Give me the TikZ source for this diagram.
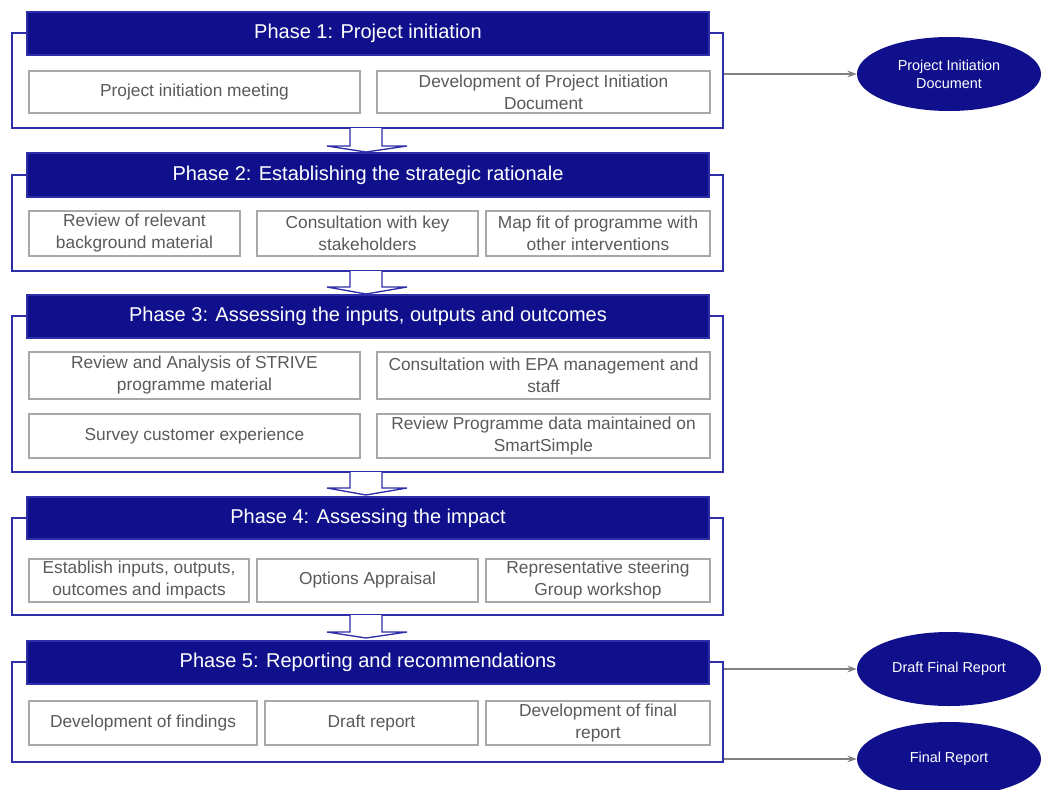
\documentclass[tikz,border=0pt]{standalone}
\usepackage{fontspec}
\setmainfont{Liberation Sans}
\usetikzlibrary{arrows.meta,shapes.geometric}
\definecolor{navy}{HTML}{10108C}
\definecolor{frameblue}{HTML}{2E2EA8}
\definecolor{boxgray}{HTML}{A8A8A8}
\definecolor{txtgray}{HTML}{5A5A5A}
\definecolor{arrgray}{HTML}{808080}
\newcommand\bx[7]{\node[#6, minimum width={(#4-#2)*0.75pt}, minimum height={(#5-#3)*0.75pt}] (#1) at ({(#2+#4)/2},{(#3+#5)/2}) {#7};}
\newcommand\blkarrow[3]{\draw[blkarr] (350,#1) -- (350,#2) -- (327,#2) -- (366,#3) -- (407,#2) -- (382,#2) -- (382,#1);}
\tikzset{
  hdr/.style={fill=navy, draw=frameblue, line width=0.8pt, text=white, font=\fontsize{15}{17}\selectfont, inner sep=0pt},
  frm/.style={draw=frameblue, line width=1.3pt, inner sep=0pt},
  sub/.style={draw=boxgray, line width=1.3pt, fill=white, text=txtgray, font=\fontsize{13}{16.5}\selectfont, align=center, inner sep=0pt},
  outp/.style={ellipse, fill=navy, text=white, font=\fontsize{10.8}{13.5}\selectfont, align=center, minimum width=138pt, minimum height=55.5pt, inner sep=0pt},
  flow/.style={draw=arrgray, line width=1.1pt, -{Stealth[length=7pt,width=5pt]}},
  blkarr/.style={draw=frameblue, fill=white, line width=1pt, line join=miter}
}
\begin{document}
\begin{tikzpicture}[x=0.75pt,y=-0.75pt]
\useasboundingbox (0,0) rectangle (1041,789);
% frames
\bx{f1}{12}{33}{723}{128}{frm}{}
\bx{f2}{12}{175}{723}{271}{frm}{}
\bx{f3}{12}{316}{723}{472}{frm}{}
\bx{f4}{12}{518}{723}{615}{frm}{}
\bx{f5}{12}{662}{723}{762}{frm}{}
% block arrows
\blkarrow{128}{146}{152}
\blkarrow{271}{287}{294}
\blkarrow{472}{488}{495}
\blkarrow{615}{632}{638}
% headers
\bx{h1}{27}{12}{709}{55}{hdr}{Phase 1: Project initiation}
\bx{h2}{27}{153}{709}{197}{hdr}{Phase 2: Establishing the strategic rationale}
\bx{h3}{27}{295}{709}{338}{hdr}{Phase 3: Assessing the inputs, outputs and outcomes}
\bx{h4}{27}{497}{709}{539}{hdr}{Phase 4: Assessing the impact}
\bx{h5}{27}{641}{709}{684}{hdr}{Phase 5: Reporting and recommendations}
% phase 1 boxes
\bx{b11}{29}{71}{360}{113}{sub}{Project initiation meeting}
\bx{b12}{377}{71}{710}{113}{sub}{Development of Project Initiation\\Document}
% phase 2 boxes
\bx{b21}{29}{211}{240}{256}{sub}{Review of relevant\\background material}
\bx{b22}{257}{211}{478}{256}{sub}{Consultation with key\\stakeholders}
\bx{b23}{486}{211}{710}{256}{sub}{Map fit of programme with\\other interventions}
% phase 3 boxes
\bx{b31}{29}{352}{360}{399}{sub}{Review and Analysis of STRIVE\\programme material}
\bx{b32}{377}{352}{710}{399}{sub}{Consultation with EPA management and\\staff}
\bx{b33}{29}{414}{360}{458}{sub}{Survey customer experience}
\bx{b34}{377}{414}{710}{458}{sub}{Review Programme data maintained on\\SmartSimple}
% phase 4 boxes
\bx{b41}{29}{559}{249}{602}{sub}{Establish inputs, outputs,\\outcomes and impacts}
\bx{b42}{257}{559}{478}{602}{sub}{Options Appraisal}
\bx{b43}{486}{559}{710}{602}{sub}{Representative steering\\Group workshop}
% phase 5 boxes
\bx{b51}{29}{701}{257}{745}{sub}{Development of findings}
\bx{b52}{265}{701}{478}{745}{sub}{Draft report}
\bx{b53}{486}{701}{710}{745}{sub}{Development of final\\report}
% outputs
\node[outp] (pid) at (949,74) {Project Initiation\\Document};
\node[outp] (dfr) at (949,669) {Draft Final Report};
\node[outp] (fr) at (949,759) {Final Report};
% connectors
\draw[flow] (f1.east |- pid.west) -- (pid.west);
\draw[flow] (f5.east |- dfr.west) -- (dfr.west);
\draw[flow] (f5.east |- fr.west) -- (fr.west);
\end{tikzpicture}
\end{document}
